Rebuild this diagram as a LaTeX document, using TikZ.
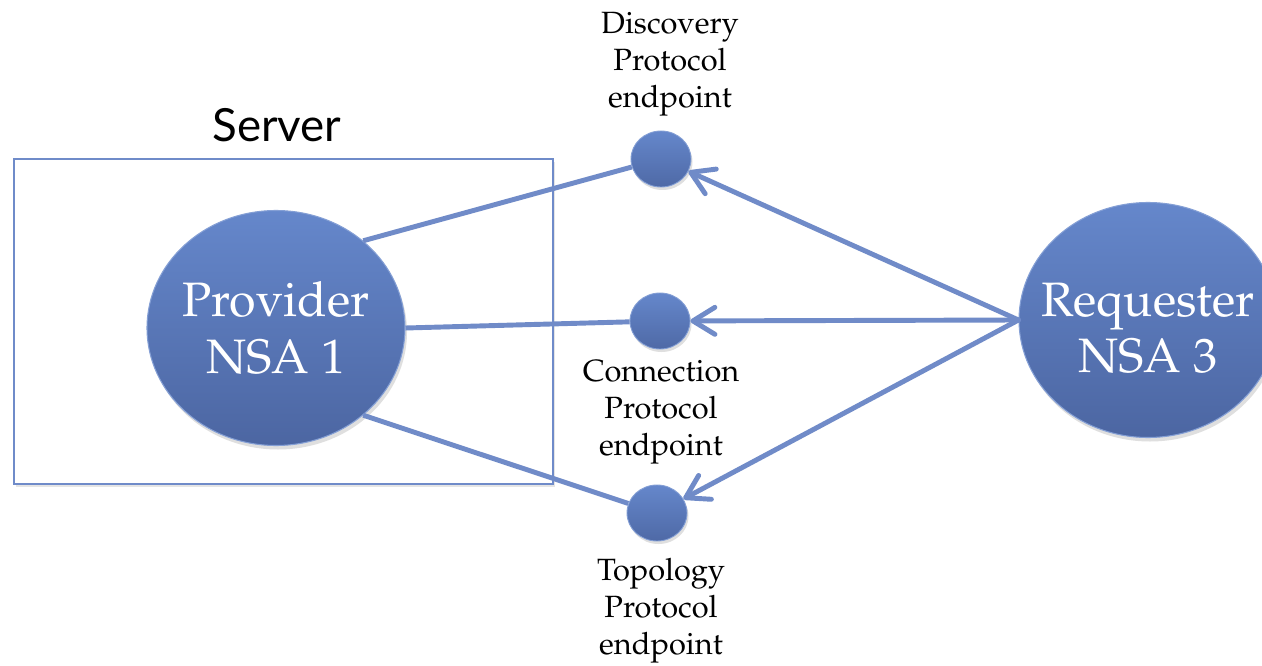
\documentclass[tikz,border=0pt]{standalone}
\usepackage{fontspec}
\usepackage[T1]{fontenc}
\usepackage{mathpazo}
\newfontfamily\serverfont{Lato}
\usetikzlibrary{arrows.meta,shadows,shapes.geometric}
\definecolor{nsatop}{HTML}{6587CB}
\definecolor{nsabot}{HTML}{4C66A2}
\definecolor{link}{HTML}{708BC8}
\definecolor{frame}{HTML}{6F8BC9}

\begin{document}
\begin{tikzpicture}[x=1cm,y=1cm,
  nsa/.style={ellipse,top color=nsatop,bottom color=nsabot,draw=nsatop!80!white,line width=.6pt,minimum width=5.16cm,minimum height=4.7cm,inner sep=0pt,drop shadow={opacity=.25,shadow xshift=.04,shadow yshift=-.08}},
  nsatext/.style={text=white,align=center,font=\fontsize{27.5}{32}\selectfont,inner sep=0pt},
  endpt/.style={ellipse,top color=nsatop,bottom color=nsabot!90!nsatop,draw=nsatop!80!white,line width=.5pt,minimum width=1.2cm,minimum height=1.12cm,inner sep=0pt,drop shadow={opacity=.25,shadow xshift=.03,shadow yshift=-.06}},
  lbl/.style={align=center,font=\fontsize{17.5}{21}\selectfont,inner sep=0pt},
  wire/.style={link,line width=2.8pt},
  req/.style={wire,line cap=round,-{Straight Barb[length=4.4mm,width=5.4mm,round]}}]
\useasboundingbox (0,0) rectangle (25.24,13.3);
\clip (0,0) rectangle (25.24,13.3);
\fill[white] (0,0) rectangle (25.24,13.3);
% server frame
\node[draw=frame,line width=1.1pt,fill=white,minimum width=10.78cm,minimum height=6.5cm,drop shadow={opacity=.2,shadow xshift=.04,shadow yshift=-.06}] (srv) at (5.67,6.87){};
\node[font=\serverfont\fontsize{26}{30}\selectfont] (srvlbl) at (5.54,10.8){Server};
% NSAs and endpoints
\node[nsa,label={[nsatext]center:Provider\\NSA 1}] (prov) at (5.52,6.74){};
\node[nsa,label={[nsatext,yshift=-.16cm]center:Requester\\NSA 3}] (reqr) at (22.96,6.9){};
\node[endpt] (disc) at (13.22,10.12){};
\node[endpt] (conn) at (13.2,6.88){};
\node[endpt] (topo) at (13.14,3.04){};
\node[lbl] (disclbl) at (13.4,12.02){Discovery\\Protocol\\endpoint};
\node[lbl] (connlbl) at (13.22,5.06){Connection\\Protocol\\endpoint};
\node[lbl] (topolbl) at (13.22,1.08){Topology\\Protocol\\endpoint};
% links
\draw[wire] (prov.45)--(disc);\draw[wire] (prov.east)--(conn);\draw[wire] (prov.-45)--(topo);
\draw[req] (reqr.west)--(disc);\draw[req] (reqr.west)--(conn);\draw[req] (reqr.west)--(topo);
\end{tikzpicture}
\end{document}
